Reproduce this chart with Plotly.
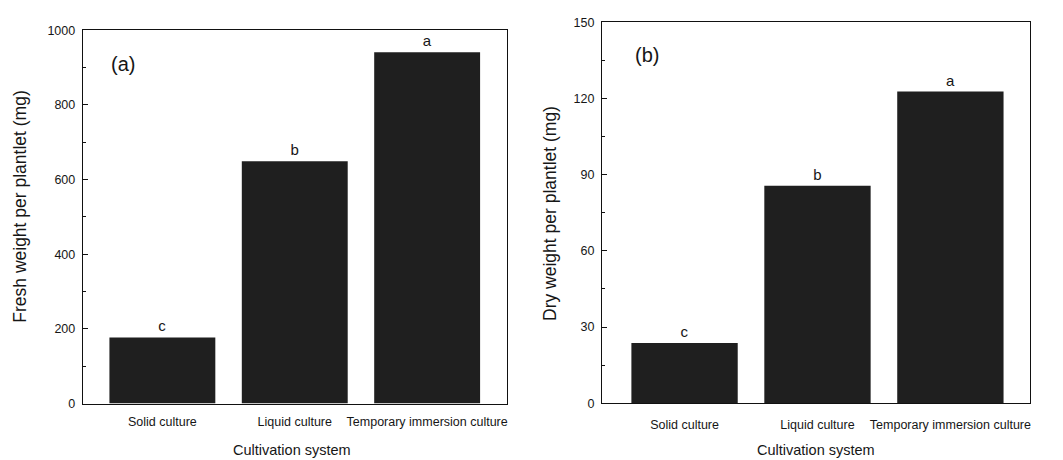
import plotly.graph_objects as go
from plotly.subplots import make_subplots

categories = ["Solid culture", "Liquid culture", "Temporary immersion culture"]
fresh_weight = [177, 649, 941]
dry_weight = [23.7, 85.6, 122.7]
letters = ["c", "b", "a"]

FONT = "Liberation Sans, Arial, sans-serif"
BAR = "#1f1f1f"
TXT = "#161616"

fig = make_subplots(rows=1, cols=2)

for col, vals in ((1, fresh_weight), (2, dry_weight)):
    fig.add_trace(go.Bar(x=categories, y=vals, marker=dict(color=BAR, line=dict(width=0)),
                         width=0.8, text=letters, textposition="outside", cliponaxis=False,
                         constraintext="none",
                         textfont=dict(size=15, color=TXT, family=FONT),
                         outsidetextfont=dict(size=15, color=TXT, family=FONT), showlegend=False),
                  row=1, col=col)

axis_common = dict(showline=True, linecolor="#111", linewidth=1.4, mirror=True, showgrid=False,
                   zeroline=False, tickfont=dict(size=12.5, family=FONT, color=TXT))

fig.update_layout(
    width=1063, height=460, margin=dict(l=0, r=0, t=0, b=0),
    paper_bgcolor="white", plot_bgcolor="white", font=dict(family=FONT, color=TXT),
    xaxis=dict(domain=[0.0781, 0.4770], range=[-0.6, 2.6], ticks="", ticklabelstandoff=6, **axis_common),
    yaxis=dict(domain=[0.1109, 0.9478], range=[0, 1000], tickvals=[0, 200, 400, 600, 800, 1000],
               ticks="inside", ticklen=5, tickcolor="#111",
               minor=dict(tickvals=[100, 300, 500, 700, 900], ticks="inside", ticklen=3, tickcolor="#111"),
               ticklabelstandoff=4, **axis_common),
    xaxis2=dict(domain=[0.567, 0.970], range=[-0.62, 2.6], ticks="", ticklabelstandoff=10, **axis_common),
    yaxis2=dict(domain=[0.1115, 0.9659], range=[0, 150], tickvals=[0, 30, 60, 90, 120, 150],
                ticks="inside", ticklen=5, tickcolor="#111",
                minor=dict(tickvals=[15, 45, 75, 105, 135], ticks="inside", ticklen=3, tickcolor="#111"),
                ticklabelstandoff=4, **axis_common),
)

ann = [
    dict(text="(a)", x=123 / 1063, y=1 - 59 / 460, size=20),
    dict(text="(b)", x=648 / 1063, y=1 - 49 / 460, size=20),
    dict(text="Fresh weight per plantlet (mg)", x=20 / 1063, y=1 - 206 / 460, textangle=-90, size=17.5),
    dict(text="Dry weight per plantlet (mg)", x=550 / 1063, y=1 - 213 / 460, textangle=-90, size=17.5),
    dict(text="Cultivation system", x=292 / 1063, y=1 - 457 / 460, size=14.5),
    dict(text="Cultivation system", x=817 / 1063, y=1 - 457 / 460, size=14.5),
]
for a in ann:
    size = a.pop("size")
    fig.add_annotation(xref="paper", yref="paper", showarrow=False, xanchor="center", yanchor="middle",
                       font=dict(family=FONT, color=TXT, size=size), **a)

fig.write_html("out.html")
